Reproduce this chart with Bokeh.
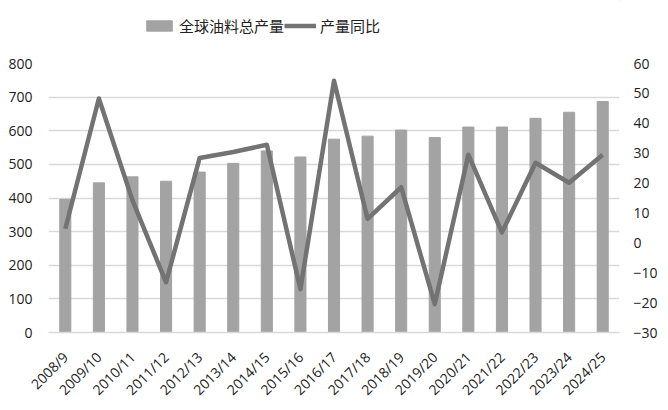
from math import pi
from bokeh.plotting import figure
from bokeh.layouts import column
from bokeh.models import Range1d, LinearAxis, Legend, LegendItem, FixedTicker
from bokeh.embed import file_html
from bokeh.resources import INLINE

years = ["2008/9", "2009/10", "2010/11", "2011/12", "2012/13", "2013/14", "2014/15",
         "2015/16", "2016/17", "2017/18", "2018/19", "2019/20", "2020/21", "2021/22",
         "2022/23", "2023/24", "2024/25"]
production = [396, 445, 463, 450, 477, 503, 540, 522, 575, 584, 602, 580, 611, 611, 637, 655, 687]
yoy = [4.7, 48.3, 14.2, -13.2, 28.4, 30.4, 32.8, -15.5, 54.2, 8.0, 18.6, -20.5, 29.5, 3.5, 26.8, 20.1, 29.5]
series_names = ["全球油料总产量", "产量同比"]

FONT = "Open Sans"
CJK = "Noto Sans CJK SC"
BAR_COLOR = "#a3a3a3"
LINE_COLOR = "#737373"

# ---- main chart ----
p = figure(x_range=years, y_range=Range1d(0, 800), width=660, height=357,
           output_backend="svg", toolbar_location=None,
           min_border_left=48, min_border_right=38, min_border_top=12, min_border_bottom=71)
p.extra_y_ranges = {"yoy": Range1d(-30, 60)}

bars = p.vbar(x=years, top=production, width=0.33, color=BAR_COLOR)
line = p.line(x=years, y=yoy, y_range_name="yoy", line_color=LINE_COLOR, line_width=4.5,
              line_join="round")

p.outline_line_color = None
p.xgrid.grid_line_color = None
p.ygrid.grid_line_color = "#d9d9d9"
p.ygrid.grid_line_width = 1.5
p.yaxis.ticker = FixedTicker(ticks=list(range(0, 801, 100)))

def style_y(ax, standoff):
    ax.axis_line_color = None
    ax.major_tick_line_color = None
    ax.minor_tick_line_color = None
    ax.major_label_text_font = FONT
    ax.major_label_text_font_size = "14px"
    ax.major_label_text_color = "#222222"
    ax.major_label_standoff = standoff

for ax in p.yaxis:
    style_y(ax, 10)

right = LinearAxis(y_range_name="yoy", ticker=FixedTicker(ticks=list(range(-30, 61, 10))))
style_y(right, 8)
p.add_layout(right, "right")

xa = p.xaxis[0]
xa.axis_line_color = "#d9d9d9"
xa.axis_line_width = 1.5
xa.major_tick_line_color = None
xa.minor_tick_line_color = None
xa.major_label_orientation = pi / 4
xa.major_label_text_font = FONT
xa.major_label_text_font_size = "14px"
xa.major_label_text_color = "#222222"
xa.major_label_standoff = 16

# ---- legend strip ----
lg = figure(width=660, height=51, x_range=Range1d(0, 1), y_range=Range1d(0, 1),
            output_backend="svg", toolbar_location=None,
            min_border_left=0, min_border_right=0, min_border_top=0, min_border_bottom=0)
lg.axis.visible = False
lg.grid.grid_line_color = None
lg.outline_line_color = None
lb = lg.vbar(x=[5], top=[5], bottom=[4], width=0.3, color=BAR_COLOR)
ll = lg.line(x=[5, 6], y=[5, 5], line_color=LINE_COLOR, line_width=4.5)
legend = Legend(items=[LegendItem(label=series_names[0], renderers=[lb]),
                       LegendItem(label=series_names[1], renderers=[ll])],
                orientation="horizontal", location=(95, 15),
                label_text_font=CJK, label_text_font_size="15px", label_text_color="#222222",
                glyph_width=32, glyph_height=13, spacing=0, label_standoff=4,
                border_line_color=None, background_fill_alpha=0, padding=2, margin=0)
lg.add_layout(legend)

layout = column(lg, p, spacing=0)
open("out.html", "w").write(file_html(layout, INLINE))
